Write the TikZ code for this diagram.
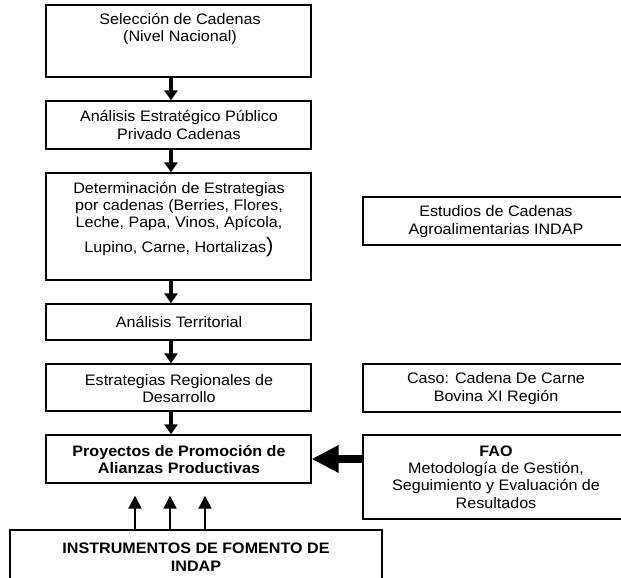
\documentclass[tikz,border=0pt]{standalone}
\usepackage{fontspec}
\setmainfont[FakeStretch=1.06]{Liberation Sans}
\usetikzlibrary{arrows.meta}
\begin{document}
\begin{tikzpicture}[x=1pt,y=-1pt,
  box/.style={draw, line width=1.4pt, inner sep=0pt, minimum width=#1},
  txt/.style={align=center, inner sep=0pt, font=\fontsize{15.2}{17.2}\selectfont},
  downarr/.style={line width=4pt, -{Triangle[length=10pt,width=13pt]}},
  uparr/.style={line width=2pt, -{Triangle[length=13pt,width=13pt]}},
  bigarr/.style={line width=8pt, -{Triangle[length=27pt,width=26pt]}}]
\useasboundingbox (0,0) rectangle (621,578);
\clip (0,0) rectangle (621,578);
% main column boxes
\node[box=265pt, minimum height=72pt] (b1) at (178.5,41) {};
\node[box=265pt, minimum height=48pt] (b2) at (178.5,125) {};
\node[box=265pt, minimum height=107pt] (b3) at (178.5,226.5) {};
\node[box=265pt, minimum height=36pt] (b4) at (178.5,322) {};
\node[box=265pt, minimum height=47pt] (b5) at (178.5,387.5) {};
\node[box=265pt, minimum height=48pt] (b6) at (178.5,459) {};
\node[box=372pt, minimum height=70pt] (bi) at (196,565) {};
% right boxes (run past the right edge of the picture)
\node[box=290pt, minimum height=48pt] (r1) at (508,221) {};
\node[box=290pt, minimum height=48pt] (r2) at (508,388) {};
\node[box=290pt, minimum height=84pt] (r3) at (508,477) {};
% texts
\node[txt] (t1) at (180,29) {Selección de Cadenas\\(Nivel Nacional)};
\node[txt] (t2) at (179,125) {Análisis Estratégico Público\\Privado Cadenas};
\node[txt] (t3) at (179,219.5) {Determinación de Estrategias\\por cadenas (Berries, Flores,\\Leche, Papa, Vinos, Apícola,\\[5pt]Lupino, Carne, Hortalizas{\fontsize{21}{21}\selectfont)}};
\node[txt] (t4) at (179,322) {Análisis Territorial};
\node[txt] (t5) at (179,388.5) {Estrategias Regionales de\\Desarrollo};
\node[txt, font=\fontsize{15.2}{17.2}\selectfont\bfseries] (t6) at (179,459.5) {Proyectos de Promoción de\\Alianzas Productivas};
\node[txt, font=\fontsize{15.2}{18}\selectfont\bfseries] (ti) at (196,557) {INSTRUMENTOS DE FOMENTO DE\\INDAP};
\node[txt] (tr1) at (496,221.5) {Estudios de Cadenas\\Agroalimentarias INDAP};
\node[txt] (tr2) at (496,388.5) {Caso: Cadena De Carne\\Bovina XI Región};
\node[txt] (tr3) at (496,477) {\textbf{FAO}\\Metodología de Gestión,\\Seguimiento y Evaluación de\\Resultados};
% arrows
\coordinate (ax) at (171,0);
\draw[downarr] (b1.south -| ax) -- (b2.north -| ax);
\draw[downarr] (b2.south -| ax) -- (b3.north -| ax);
\draw[downarr] (b3.south -| ax) -- (b4.north -| ax);
\draw[downarr] (b4.south -| ax) -- (b5.north -| ax);
\draw[downarr] (b5.south -| ax) -- (b6.north -| ax);
\coordinate (u1) at (135,0);
\coordinate (u2) at (170,0);
\coordinate (u3) at (205,0);
\draw[uparr, shorten >=12pt] (bi.north -| u1) -- (b6.south -| u1);
\draw[uparr, shorten >=12pt] (bi.north -| u2) -- (b6.south -| u2);
\draw[uparr, shorten >=12pt] (bi.north -| u3) -- (b6.south -| u3);
\draw[bigarr] (b6.east -| r3.west) -- (b6.east);
\end{tikzpicture}
\end{document}
